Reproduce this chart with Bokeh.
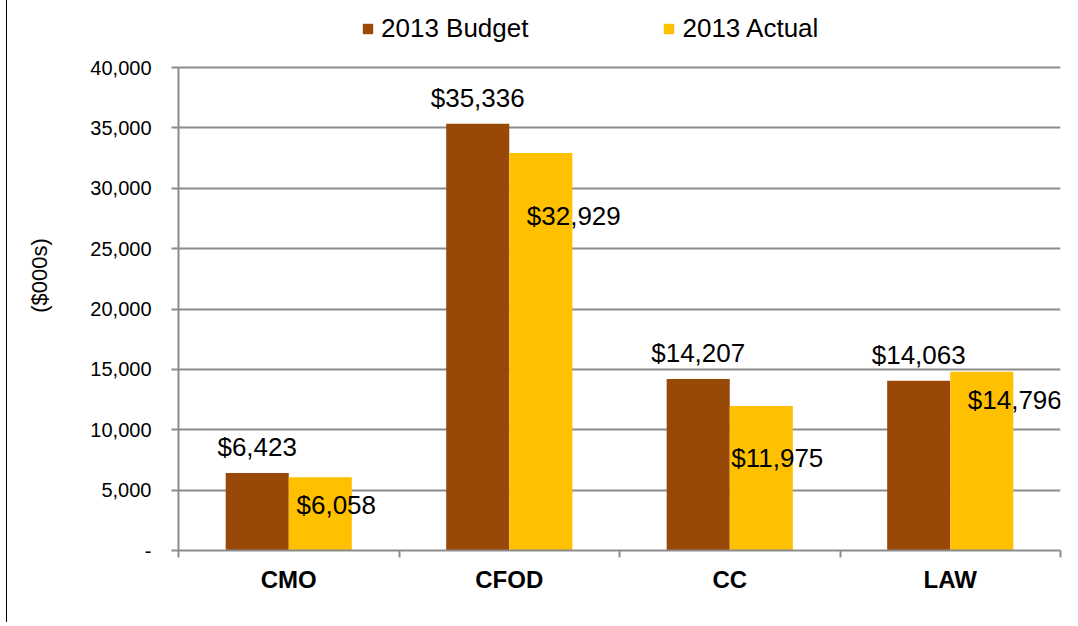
from bokeh.plotting import figure
from bokeh.models import (ColumnDataSource, FixedTicker, LinearAxis, Range1d, Legend,
                          LegendItem, LabelSet, NumeralTickFormatter, InlineStyleSheet, Grid)
from bokeh.core.properties import value
from bokeh.embed import file_html
from bokeh.resources import INLINE

# ---- data ----
categories = ["CMO", "CFOD", "CC", "LAW"]
budget_2013 = [6423, 35336, 14207, 14063]
actual_2013 = [6058, 32929, 11975, 14796]
y_ticks = [0, 5000, 10000, 15000, 20000, 25000, 30000, 35000, 40000]

# ---- styles ----
BROWN = "#984807"
GOLD = "#FFC000"
GRID = "#8C8C8C"
FONT = "Liberation Sans"
BAR_W = 0.286
# label offsets (pixels) for the data labels, as placed in the original
budget_dx = [0, 0, 0, 0]
budget_dy = [26, 26, 26, 26]
actual_dx = [16, 33, 16, 33]
actual_dy = [-28, -63, -52, -28]

n = len(categories)
centers = [i + 0.5 for i in range(n)]
y_max = y_ticks[-1]
# plot area is extended upward (above the top gridline) to host the legend
FRAME_H = 550
AXIS_H = 483
y_top = y_max * FRAME_H / AXIS_H

css = (":host { background: linear-gradient(to right, transparent 6px, #000 6px, "
       "#000 7px, transparent 7px); }")
p = figure(width=1062, height=622, output_backend="svg", toolbar_location=None,
           x_range=Range1d(0, n), y_range=Range1d(0, y_top),
           min_border_left=178, min_border_top=0, min_border_right=2, min_border_bottom=72,
           x_axis_type=None, y_axis_type=None,
           stylesheets=[InlineStyleSheet(css=css)])
p.outline_line_color = None
p.background_fill_color = "white"
p.border_fill_color = None

src_b = ColumnDataSource(dict(x=[c - BAR_W / 2 for c in centers], top=budget_2013,
                              text=[f"${v:,}" for v in budget_2013], dx=budget_dx, dy=budget_dy))
src_a = ColumnDataSource(dict(x=[c + BAR_W / 2 for c in centers], top=actual_2013,
                              text=[f"${v:,}" for v in actual_2013], dx=actual_dx, dy=actual_dy))

rb = p.vbar(x="x", top="top", width=BAR_W, bottom=0, source=src_b,
            fill_color=BROWN, line_color=None)
ra = p.vbar(x="x", top="top", width=BAR_W, bottom=0, source=src_a,
            fill_color=GOLD, line_color=None)

# y axis
yaxis = LinearAxis(ticker=FixedTicker(ticks=y_ticks), bounds=(0, y_max),
                   formatter=NumeralTickFormatter(format="0,0"),
                   major_label_overrides={0: "-"})
yaxis.axis_line_color = GRID
yaxis.axis_line_width = 2
yaxis.major_tick_line_color = GRID
yaxis.major_tick_line_width = 2
yaxis.major_tick_out = 7
yaxis.major_tick_in = 0
yaxis.minor_tick_line_color = None
yaxis.major_label_text_font = FONT
yaxis.major_label_text_font_size = "20px"
yaxis.major_label_text_color = "black"
yaxis.major_label_standoff = 20
yaxis.axis_label = "($000s)"
yaxis.axis_label_text_font = FONT
yaxis.axis_label_text_font_size = "22px"
yaxis.axis_label_text_font_style = "normal"
yaxis.axis_label_text_color = "black"
yaxis.axis_label_standoff = 35
p.add_layout(yaxis, "left")

# x axis: labels at centers, ticks at category boundaries
xaxis = LinearAxis(ticker=FixedTicker(ticks=centers, minor_ticks=list(range(n + 1))),
                   major_label_overrides={c: lab for c, lab in zip(centers, categories)})
xaxis.axis_line_color = GRID
xaxis.axis_line_width = 2
xaxis.major_tick_out = 0
xaxis.major_tick_in = 0
xaxis.major_tick_line_color = None
xaxis.minor_tick_line_color = GRID
xaxis.minor_tick_line_width = 2
xaxis.minor_tick_out = 7
xaxis.minor_tick_in = 0
xaxis.major_label_text_font = FONT
xaxis.major_label_text_font_size = "24px"
xaxis.major_label_text_font_style = "bold"
xaxis.major_label_text_color = "black"
xaxis.major_label_standoff = 8
p.add_layout(xaxis, "below")

p.add_layout(Grid(dimension=1, ticker=FixedTicker(ticks=y_ticks),
                  grid_line_color=GRID, grid_line_width=2))

# data labels
for src in (src_b, src_a):
    p.add_layout(LabelSet(x="x", y="top", text="text", source=src, x_offset="dx", y_offset="dy",
                          text_align="center", text_baseline="middle",
                          text_font=value(FONT), text_font_size="26px", text_color="black"))

legend = Legend(items=[LegendItem(label="2013 Budget", renderers=[rb]),
                       LegendItem(label="2013 Actual", renderers=[ra])],
                orientation="horizontal", location=(183, 506))
legend.glyph_width = 13
legend.glyph_height = 13
legend.label_standoff = 7
legend.spacing = 134
legend.padding = 4
legend.margin = 0
legend.border_line_color = None
legend.background_fill_alpha = 0
legend.label_text_font = FONT
legend.label_text_font_size = "26px"
legend.label_text_color = "black"
p.add_layout(legend, "center")

open("out.html", "w").write(file_html(p, INLINE))
